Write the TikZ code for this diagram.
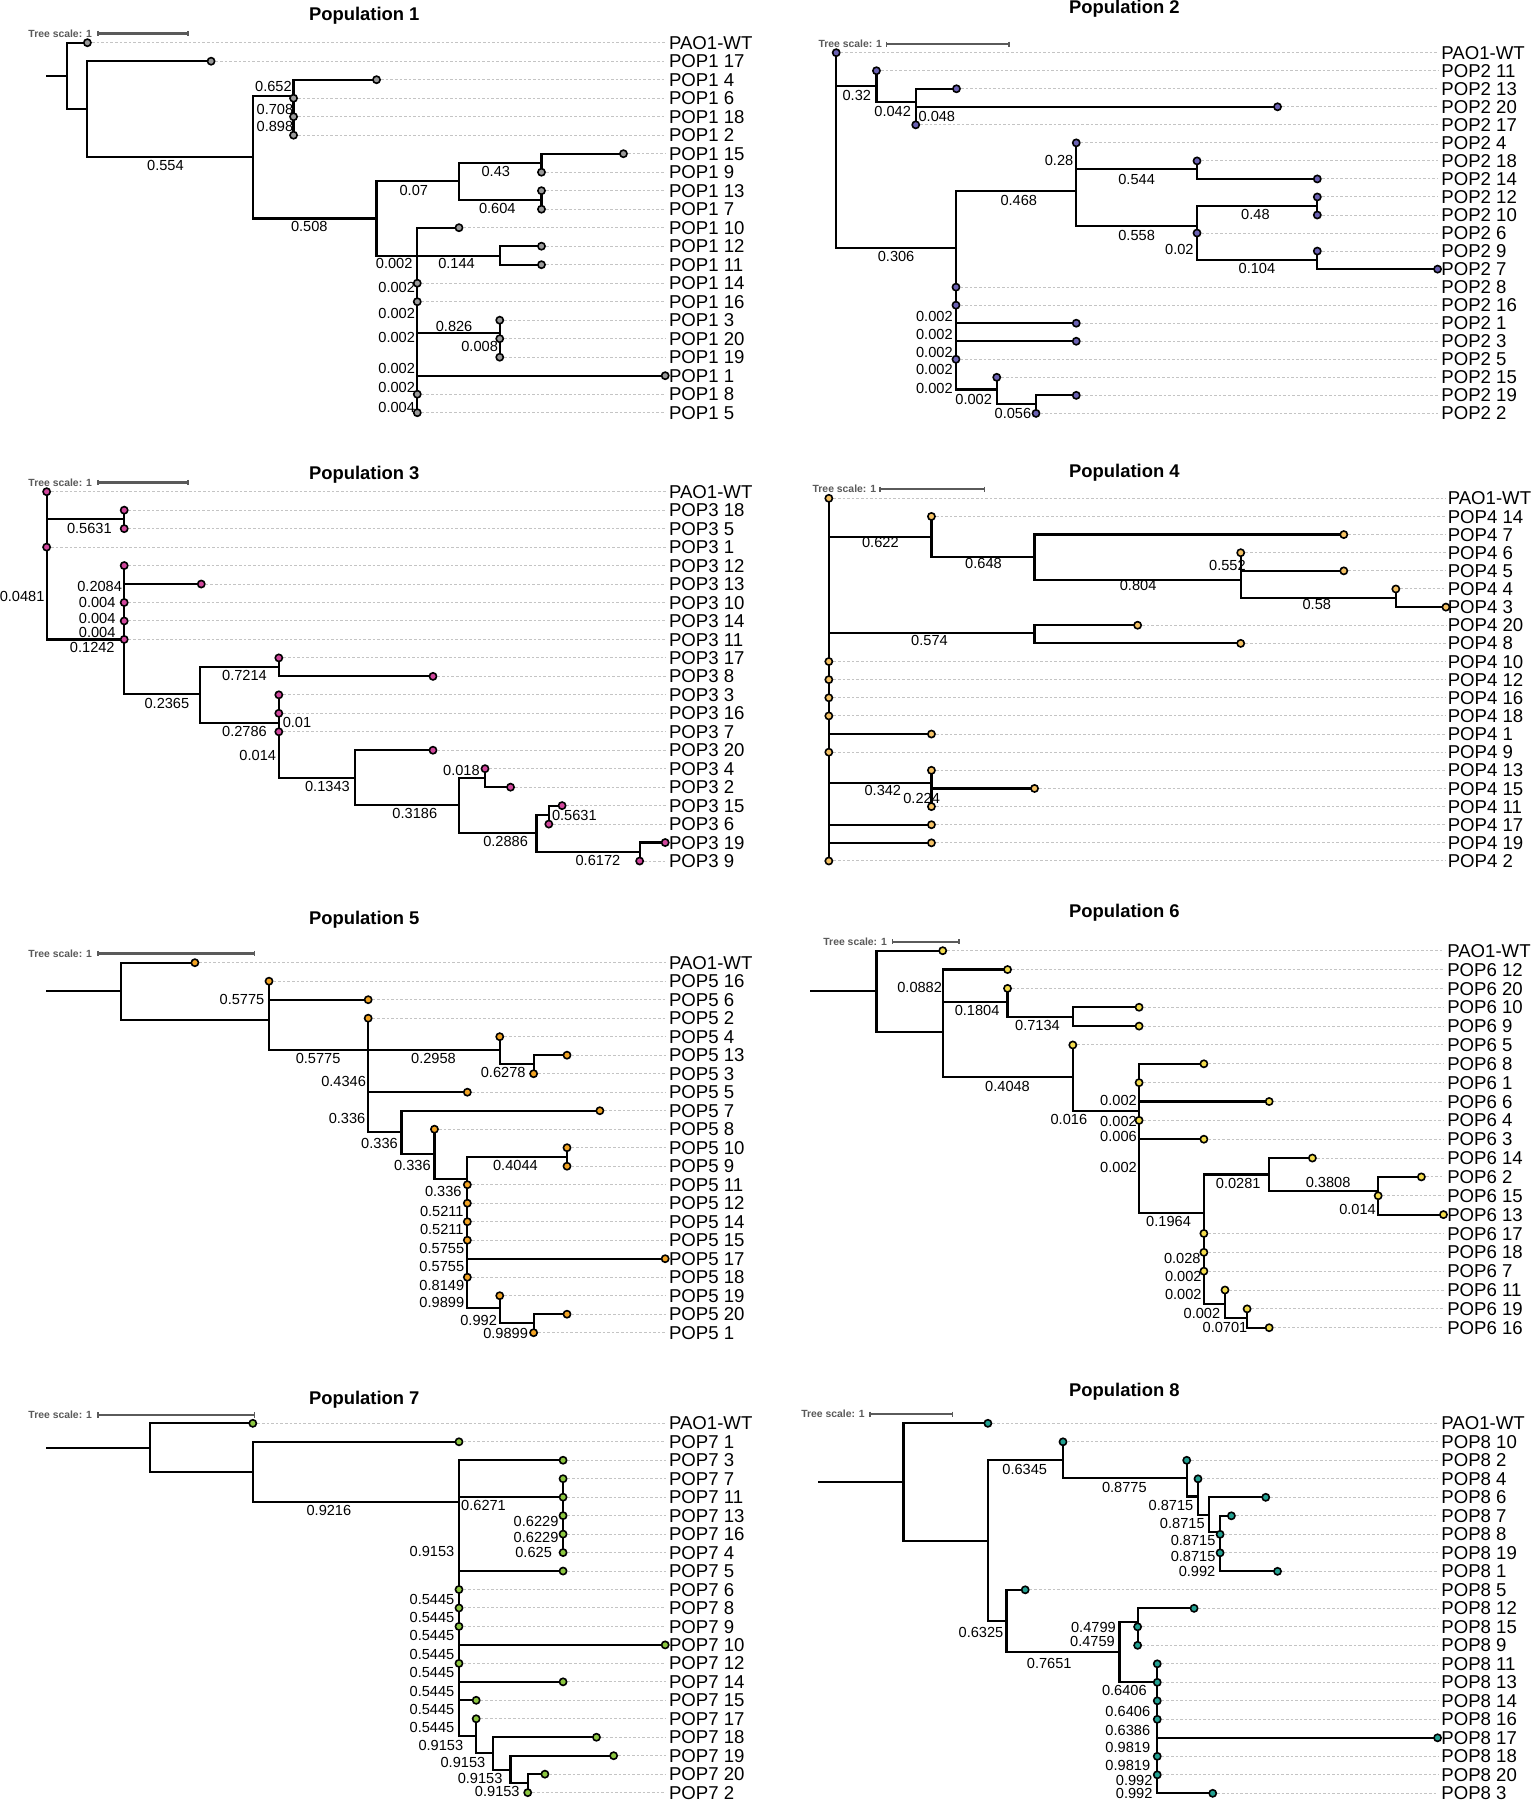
\documentclass[tikz,border=0pt]{standalone}
\usepackage{fontspec}
\setmainfont{Liberation Sans}
\definecolor{c1}{HTML}{9A9A9A}
\definecolor{c2}{HTML}{6B62B3}
\definecolor{c3}{HTML}{D0479C}
\definecolor{c4}{HTML}{F5C264}
\definecolor{c5}{HTML}{F2A424}
\definecolor{c6}{HTML}{F3DC4C}
\definecolor{c7}{HTML}{8CC640}
\definecolor{c8}{HTML}{22A091}
\definecolor{dotgray}{HTML}{C4C4C4}
\definecolor{scgray}{HTML}{5A5A5A}
\tikzset{
 br/.style={line width=1.1pt, black, line cap=rect},
 dotl/.style={line width=0.5pt, dotgray, dash pattern=on 1.3pt off 1pt},
 lf/.style={draw=black, line width=0.8pt},
 leaflab/.style={anchor=west, font=\fontsize{9.3}{10}\selectfont, inner sep=0pt, text height=6.6pt, text depth=0pt},
 blab/.style={font=\fontsize{7.3}{8}\selectfont, inner sep=0pt, text height=5.2pt, text depth=0pt},
 ttl/.style={font=\bfseries\fontsize{9.2}{11}\selectfont, inner sep=0pt},
 tsc/.style={font=\bfseries\fontsize{5.2}{6}\selectfont, text=scgray, anchor=east, inner sep=0pt},
 sbar/.style={line width=1.1pt, scgray}
}
\newcount\blc
\newcommand\bl[3]{\global\advance\blc by 1 \node[blab] (bl\the\blc) at (#1,#2) {#3};}
\newcommand\dotrows[2]{\foreach \lx [count=\i from 0] in #2 {\draw[dotl] (\lx,\i) -- (#1,\i);}}
\newcommand\leafdots[2]{\foreach \lx [count=\i from 0] in #2 {\filldraw[lf, fill=#1] (\lx,\i) circle[radius=1.8pt];}}
\newcommand\leafnames[3]{\foreach \t [count=\i from 0] in {#3} {\node[leaflab] (#2n\i) at (#1,\i) {\t};}}
\newcommand\treescale[5]{\node[tsc] (#5) at (#1,#4) {Tree scale: 1};
 \draw[sbar] (#2,#4) -- (#3,#4);
 \draw[sbar, line width=0.7pt] (#2,#4-0.14) -- (#2,#4+0.14) (#3,#4-0.14) -- (#3,#4+0.14);}
\begin{document}
\begin{tikzpicture}[x=0.5pt,y=-0.5pt]
\fill[white] (0,0) rectangle (1533,1800);
\useasboundingbox (0,0) rectangle (1533,1800);

% ---------------- Population 1
\begin{scope}[shift={(0,42.7)},x=0.24546pt,y=-9.25pt]
\def\L{178,430,767,598,598,598,1270,1103,1103,1103,935,1103,1103,850,850,1018,1018,1018,1355,850,850}
\node[ttl] (t1) at (742,-1.44) {Population 1};
\treescale{188}{200}{383}{-0.5}{s1}
\dotrows{1356}\L
\draw[br] (95,1.8)--(137,1.8) (137,0)--(137,3.57) (137,0)--(178,0) (137,3.57)--(178,3.57)
 (178,1)--(178,6.16) (178,1)--(430,1) (178,6.16)--(515,6.16)
 (515,2.86)--(515,9.5) (515,2.86)--(598,2.86) (598,2)--(598,5) (598,2)--(767,2)
 (515,9.5)--(767,9.5) (767,7.48)--(767,11.53) (767,7.48)--(935,7.48)
 (935,6.5)--(935,8.5) (935,6.5)--(1103,6.5) (1103,6)--(1103,7) (1103,6)--(1270,6)
 (935,8.5)--(1103,8.5) (1103,8)--(1103,9)
 (767,11.53)--(1018,11.53) (1018,11)--(1018,12) (1018,11)--(1103,11) (1018,12)--(1103,12)
 (850,10)--(850,20) (850,10)--(935,10) (850,15.71)--(1018,15.71) (1018,15)--(1018,17) (850,18)--(1355,18);
\leafdots{c1}\L
\leafnames{1362}{p1}{PAO1-WT,POP1 17,POP1 4,POP1 6,POP1 18,POP1 2,POP1 15,POP1 9,POP1 13,POP1 7,POP1 10,POP1 12,POP1 11,POP1 14,POP1 16,POP1 3,POP1 20,POP1 19,POP1 1,POP1 8,POP1 5}
\bl{337}{6.6}{0.554}\bl{557}{2.34}{0.652}\bl{560}{3.6}{0.708}\bl{560}{4.54}{0.898}
\bl{630}{9.95}{0.508}\bl{843}{7.97}{0.07}\bl{1010}{6.97}{0.43}\bl{1013}{8.95}{0.604}
\bl{803}{11.93}{0.002}\bl{930}{11.93}{0.144}\bl{925}{15.35}{0.826}\bl{977}{16.4}{0.008}
\bl{808}{13.2}{0.002}\bl{808}{14.63}{0.002}\bl{808}{15.95}{0.002}\bl{808}{17.6}{0.002}\bl{808}{18.63}{0.002}\bl{808}{19.71}{0.004}
\end{scope}

% ---------------- Population 2
\begin{scope}[shift={(766,52.7)},x=0.24546pt,y=-9.017pt]
\def\L{143,225,388,1042,305,632,878,1123,1123,1123,878,1123,1368,387,387,632,632,387,470,632,550}
\node[ttl] (t2) at (730,-2.46) {Population 2};
\treescale{237}{245}{495}{-0.48}{s2}
\dotrows{1369}\L
\draw[br] (143,0)--(143,10.81)
 (143,1.85)--(225,1.85) (225,1)--(225,2.75) (225,2.75)--(305,2.75) (305,2)--(305,4) (305,2)--(388,2) (305,3)--(1042,3)
 (143,10.81)--(387,10.81) (387,7.67)--(387,18.67)
 (387,7.67)--(632,7.67) (632,5)--(632,9.61)
 (632,6.47)--(878,6.47) (878,6)--(878,7) (878,7)--(1123,7)
 (632,9.61)--(878,9.61) (878,8.5)--(878,11.5)
 (878,8.5)--(1123,8.5) (1123,8)--(1123,9)
 (878,11.5)--(1123,11.5) (1123,11)--(1123,12) (1123,12)--(1368,12)
 (387,15)--(632,15) (387,16)--(632,16)
 (387,18.67)--(470,18.67) (470,18)--(470,19.5) (470,19.5)--(550,19.5) (550,19)--(550,20) (550,19)--(632,19);
\leafdots{c2}\L
\leafnames{1375}{p2}{PAO1-WT,POP2 11,POP2 13,POP2 20,POP2 17,POP2 4,POP2 18,POP2 14,POP2 12,POP2 10,POP2 6,POP2 9,POP2 7,POP2 8,POP2 16,POP2 1,POP2 3,POP2 5,POP2 15,POP2 19,POP2 2}
\bl{185}{2.38}{0.32}\bl{258}{3.23}{0.042}\bl{348}{3.55}{0.048}\bl{265}{11.31}{0.306}
\bl{515}{8.17}{0.468}\bl{597}{5.95}{0.28}\bl{755}{7.0}{0.544}\bl{755}{10.11}{0.558}
\bl{997}{8.97}{0.48}\bl{842}{10.9}{0.02}\bl{1000}{11.96}{0.104}
\bl{343}{14.6}{0.002}\bl{343}{15.6}{0.002}\bl{343}{16.6}{0.002}\bl{343}{17.55}{0.002}\bl{343}{18.6}{0.002}
\bl{423}{19.2}{0.002}\bl{503}{20.0}{0.056}
\end{scope}

% ---------------- Population 3
\begin{scope}[shift={(0,491.7)},x=0.24546pt,y=-9.233pt]
\def\L{95,253,253,95,253,410,253,253,253,568,882,568,568,568,882,988,1040,1145,1118,1355,1303}
\node[ttl] (t3) at (742,-0.9) {Population 3};
\treescale{188}{200}{383}{-0.5}{s3}
\dotrows{1356}\L
\draw[br] (95,0)--(95,8) (95,1.48)--(253,1.48) (253,1)--(253,2) (95,8)--(253,8)
 (253,4)--(253,10.97) (253,5)--(410,5)
 (253,10.97)--(408,10.97) (408,9.48)--(408,12.51)
 (408,9.48)--(568,9.48) (568,9)--(568,10) (568,10)--(882,10)
 (408,12.51)--(568,12.51) (568,11)--(568,15.49)
 (568,15.49)--(723,15.49) (723,14)--(723,16.97) (723,14)--(882,14)
 (723,16.97)--(935,16.97) (935,15.49)--(935,18.5)
 (935,15.49)--(988,15.49) (988,15)--(988,16) (988,16)--(1040,16)
 (935,18.5)--(1093,18.5) (1093,17.5)--(1093,19.49)
 (1093,17.5)--(1118,17.5) (1118,17)--(1118,18) (1118,17)--(1145,17)
 (1093,19.49)--(1303,19.49) (1303,19)--(1303,20) (1303,19)--(1355,19);
\leafdots{c3}\L
\leafnames{1362}{p3}{PAO1-WT,POP3 18,POP3 5,POP3 1,POP3 12,POP3 13,POP3 10,POP3 14,POP3 11,POP3 17,POP3 8,POP3 3,POP3 16,POP3 7,POP3 20,POP3 4,POP3 2,POP3 15,POP3 6,POP3 19,POP3 9}
\bl{182}{1.99}{0.5631}\bl{45}{5.65}{0.0481}\bl{203}{5.14}{0.2084}\bl{198}{6.0}{0.004}
\bl{198}{6.85}{0.004}\bl{198}{7.6}{0.004}\bl{188}{8.43}{0.1242}\bl{498}{9.96}{0.7214}
\bl{340}{11.46}{0.2365}\bl{498}{12.96}{0.2786}\bl{605}{12.51}{0.01}\bl{525}{14.3}{0.014}
\bl{667}{15.94}{0.1343}\bl{940}{15.1}{0.018}\bl{845}{17.42}{0.3186}\bl{1170}{17.5}{0.5631}
\bl{1030}{18.95}{0.2886}\bl{1218}{19.95}{0.6172}
\end{scope}

% ---------------- Population 4
\begin{scope}[shift={(766,498.3)},x=0.24546pt,y=-9.067pt]
\def\L{128,337,1177,967,1177,1283,1385,757,967,128,128,128,128,337,128,337,547,337,337,337,128}
\node[ttl] (t4) at (730,-1.42) {Population 4};
\treescale{225}{232}{445}{-0.5}{s4}
\dotrows{1386}\L
\draw[br] (128,0)--(128,20)
 (128,2.15)--(337,2.15) (337,1)--(337,3.25)
 (337,3.25)--(547,3.25) (547,2)--(547,4.5) (547,2)--(1177,2)
 (547,4.5)--(967,4.5) (967,3)--(967,5.51) (967,4)--(1177,4)
 (967,5.51)--(1283,5.51) (1283,5)--(1283,6) (1283,6)--(1385,6)
 (128,7.44)--(547,7.44) (547,7)--(547,8) (547,7)--(757,7) (547,8)--(967,8)
 (128,13)--(337,13)
 (128,15.72)--(337,15.72) (337,15)--(337,17) (337,16)--(547,16)
 (128,18)--(337,18) (128,19)--(337,19);
\leafdots{c4}\L
\leafnames{1388}{p4}{PAO1-WT,POP4 14,POP4 7,POP4 6,POP4 5,POP4 4,POP4 3,POP4 20,POP4 8,POP4 10,POP4 12,POP4 16,POP4 18,POP4 1,POP4 9,POP4 13,POP4 15,POP4 11,POP4 17,POP4 19,POP4 2}
\bl{233}{2.44}{0.622}\bl{443}{3.58}{0.648}\bl{758}{4.82}{0.804}\bl{940}{3.68}{0.552}
\bl{1122}{5.83}{0.58}\bl{333}{7.85}{0.574}\bl{238}{16.08}{0.342}\bl{317}{16.54}{0.224}
\end{scope}

% ---------------- Population 5
\begin{scope}[shift={(0,962.7)},x=0.24546pt,y=-9.25pt]
\def\L{397,548,750,750,1018,1155,1087,952,1222,885,1155,1155,952,952,952,952,1355,952,1018,1155,1087}
\node[ttl] (t5) at (742,-2.31) {Population 5};
\treescale{188}{200}{518}{-0.5}{s5}
\dotrows{1356}\L
\draw[br] (95,1.51)--(247,1.51) (247,0)--(247,3.1) (247,0)--(397,0)
 (247,3.1)--(548,3.1) (548,1)--(548,4.72) (548,2)--(750,2)
 (548,4.72)--(1018,4.72) (750,3)--(750,9.17)
 (1018,4)--(1018,5.48) (1018,5.48)--(1087,5.48) (1087,5)--(1087,6) (1087,5)--(1155,5)
 (750,7)--(952,7)
 (750,9.17)--(818,9.17) (818,8)--(818,10.34) (818,8)--(1222,8)
 (818,10.34)--(885,10.34) (885,9)--(885,11.71)
 (885,11.71)--(952,11.71) (952,10.49)--(952,18.68)
 (952,10.49)--(1155,10.49) (1155,10)--(1155,11)
 (952,16)--(1355,16)
 (952,18.68)--(1018,18.68) (1018,18)--(1018,19.46) (1018,19.46)--(1087,19.46) (1087,19)--(1087,20) (1087,19)--(1155,19);
\leafdots{c5}\L
\leafnames{1362}{p5}{PAO1-WT,POP5 16,POP5 6,POP5 2,POP5 4,POP5 13,POP5 3,POP5 5,POP5 7,POP5 8,POP5 10,POP5 9,POP5 11,POP5 12,POP5 14,POP5 15,POP5 17,POP5 18,POP5 19,POP5 20,POP5 1}
\bl{493}{1.96}{0.5775}\bl{648}{5.14}{0.5775}\bl{883}{5.14}{0.2958}\bl{1025}{5.95}{0.6278}
\bl{700}{6.43}{0.4346}\bl{707}{8.41}{0.336}\bl{773}{9.77}{0.336}\bl{840}{10.94}{0.336}
\bl{1050}{10.94}{0.4044}\bl{903}{12.34}{0.336}\bl{900}{13.42}{0.5211}\bl{900}{14.41}{0.5211}
\bl{900}{15.41}{0.5755}\bl{900}{16.4}{0.5755}\bl{900}{17.42}{0.8149}\bl{900}{18.38}{0.9899}
\bl{975}{19.32}{0.992}\bl{1030}{20.04}{0.9899}
\end{scope}

% ---------------- Population 6
\begin{scope}[shift={(766,950.7)},x=0.24546pt,y=-9.425pt]
\def\L{360,492,492,760,760,625,892,760,1025,760,892,1113,1335,1247,1380,892,892,892,935,980,1025}
\node[ttl] (t6) at (730,-2.02) {Population 6};
\treescale{247}{258}{393}{-0.48}{s6}
\dotrows{1381}\L
\draw[br] (92,2.12)--(225,2.12) (225,0)--(225,4.3) (225,0)--(360,0)
 (225,4.3)--(360,4.3) (360,1)--(360,6.72) (360,1)--(492,1)
 (360,2.74)--(492,2.74) (492,2)--(492,3.5) (492,3.5)--(625,3.5) (625,3)--(625,4) (625,3)--(760,3) (625,4)--(760,4)
 (360,6.72)--(625,6.72) (625,5)--(625,8.49)
 (625,8.49)--(760,8.49) (760,6)--(760,13.93)
 (760,6)--(892,6) (760,8)--(1025,8) (760,10)--(892,10)
 (760,13.93)--(892,13.93) (892,11.87)--(892,18.74)
 (892,11.87)--(1025,11.87) (1025,11)--(1025,12.75) (1025,11)--(1113,11)
 (1025,12.75)--(1247,12.75) (1247,12)--(1247,14) (1247,12)--(1335,12) (1247,14)--(1380,14)
 (892,18.74)--(935,18.74) (935,18)--(935,19.5) (935,19.5)--(980,19.5) (980,19)--(980,20) (980,20)--(1025,20);
\leafdots{c6}\L
\leafnames{1387}{p6}{PAO1-WT,POP6 12,POP6 20,POP6 10,POP6 9,POP6 5,POP6 8,POP6 1,POP6 6,POP6 4,POP6 3,POP6 14,POP6 2,POP6 15,POP6 13,POP6 17,POP6 18,POP6 7,POP6 11,POP6 19,POP6 16}
\bl{313}{1.95}{0.0882}\bl{430}{3.18}{0.1804}\bl{553}{3.94}{0.7134}\bl{492}{7.18}{0.4048}
\bl{617}{8.93}{0.016}\bl{718}{7.96}{0.002}\bl{718}{9.04}{0.002}\bl{718}{9.83}{0.006}
\bl{718}{11.49}{0.002}\bl{820}{14.38}{0.1964}\bl{962}{12.34}{0.0281}\bl{1145}{12.29}{0.3808}
\bl{1205}{13.72}{0.014}\bl{848}{16.32}{0.028}\bl{850}{17.29}{0.002}\bl{850}{18.21}{0.002}
\bl{888}{19.24}{0.002}\bl{935}{19.98}{0.0701}
\end{scope}

% ---------------- Population 7
\begin{scope}[shift={(0,1423.3)},x=0.24546pt,y=-9.233pt]
\def\L{515,935,1147,1147,1147,1147,1147,1147,1147,935,935,935,1355,935,1147,970,970,1215,1250,1110,1075}
\node[ttl] (t7) at (742,-1.26) {Population 7};
\treescale{188}{200}{518}{-0.45}{s7}
\dotrows{1356}\L
\draw[br] (95,1.32)--(305,1.32) (305,0)--(305,2.62) (305,0)--(515,0)
 (305,2.62)--(515,2.62) (515,1)--(515,4.24) (515,1)--(935,1)
 (515,4.24)--(935,4.24) (935,2)--(935,16.93)
 (935,2)--(1147,2) (935,4)--(1147,4) (1147,3)--(1147,7)
 (935,8)--(1147,8) (935,12)--(1355,12) (935,14)--(1147,14) (935,15)--(970,15)
 (935,16.93)--(970,16.93) (970,16)--(970,17.87)
 (970,17.87)--(1005,17.87) (1005,17)--(1005,18.77) (1005,17)--(1215,17)
 (1005,18.77)--(1040,18.77) (1040,18)--(1040,19.49) (1040,18)--(1250,18)
 (1040,19.49)--(1075,19.49) (1075,19)--(1075,20) (1075,19)--(1110,19);
\leafdots{c7}\L
\leafnames{1362}{p7}{PAO1-WT,POP7 1,POP7 3,POP7 7,POP7 11,POP7 13,POP7 16,POP7 4,POP7 5,POP7 6,POP7 8,POP7 9,POP7 10,POP7 12,POP7 14,POP7 15,POP7 17,POP7 18,POP7 19,POP7 20,POP7 2}
\bl{670}{4.69}{0.9216}\bl{985}{4.42}{0.6271}\bl{1092}{5.32}{0.6229}\bl{1092}{6.19}{0.6229}
\bl{1087}{6.99}{0.625}\bl{880}{6.95}{0.9153}
\bl{880}{9.53}{0.5445}\bl{880}{10.5}{0.5445}\bl{880}{11.5}{0.5445}\bl{880}{12.5}{0.5445}
\bl{880}{13.5}{0.5445}\bl{880}{14.5}{0.5445}\bl{880}{15.49}{0.5445}\bl{880}{16.46}{0.5445}
\bl{898}{17.42}{0.9153}\bl{943}{18.36}{0.9153}\bl{978}{19.22}{0.9153}\bl{1013}{19.95}{0.9153}
\end{scope}

% ---------------- Population 8
\begin{scope}[shift={(766,1423.3)},x=0.24546pt,y=-9.25pt]
\def\L{452,605,857,880,1018,948,925,925,1042,528,872,757,757,797,797,797,797,1368,797,797,910}
\node[ttl] (t8) at (730,-1.71) {Population 8};
\treescale{202}{212}{380}{-0.49}{s8}
\dotrows{1369}\L
\draw[br] (108,3.19)--(280,3.19) (280,0)--(280,6.34) (280,0)--(452,0)
 (280,6.34)--(452,6.34) (452,1.98)--(452,10.67)
 (452,1.98)--(605,1.98) (605,1)--(605,2.97)
 (605,2.97)--(857,2.97) (857,2)--(857,3.96)
 (857,3.96)--(880,3.96) (880,3)--(880,4.95)
 (880,4.95)--(903,4.95) (903,4)--(903,5.86) (903,4)--(1018,4)
 (903,5.86)--(925,5.86) (925,5)--(925,8) (925,5)--(948,5) (925,8)--(1042,8)
 (452,10.67)--(490,10.67) (490,9)--(490,12.38) (490,9)--(528,9)
 (490,12.38)--(720,12.38) (720,10.76)--(720,14)
 (720,10.76)--(757,10.76) (757,10)--(757,12) (757,10)--(872,10)
 (720,14)--(797,14) (797,13)--(797,20)
 (797,17)--(1368,17) (797,20)--(910,20);
\leafdots{c8}\L
\leafnames{1375}{p8}{PAO1-WT,POP8 10,POP8 2,POP8 4,POP8 6,POP8 7,POP8 8,POP8 19,POP8 1,POP8 5,POP8 12,POP8 15,POP8 9,POP8 11,POP8 13,POP8 14,POP8 16,POP8 17,POP8 18,POP8 20,POP8 3}
\bl{527}{2.47}{0.6345}\bl{730}{3.46}{0.8775}\bl{825}{4.41}{0.8715}\bl{848}{5.41}{0.8715}
\bl{870}{6.34}{0.8715}\bl{870}{7.17}{0.8715}\bl{878}{7.98}{0.992}\bl{438}{11.3}{0.6325}
\bl{577}{12.97}{0.7651}\bl{667}{11.05}{0.4799}\bl{665}{11.8}{0.4759}\bl{730}{14.45}{0.6406}
\bl{737}{15.59}{0.6406}\bl{737}{16.58}{0.6386}\bl{737}{17.53}{0.9819}\bl{737}{18.5}{0.9819}
\bl{750}{19.3}{0.992}\bl{750}{19.98}{0.992}
\end{scope}
\end{tikzpicture}
\end{document}
